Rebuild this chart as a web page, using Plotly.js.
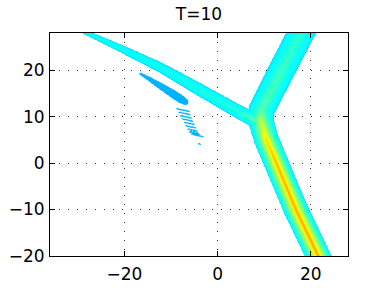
<!DOCTYPE html>
<html><head><meta charset="utf-8">
<script src="https://cdn.plot.ly/plotly-3.0.1.min.js"></script>
<style>html,body{margin:0;padding:0;background:#fff}#plot{width:384px;height:288px}</style>
</head><body><div id="plot"></div>
<script>
// ---- values (data units) ----
// left branch ridge: centre line, half-width, peak level
const ridgeA_x = [-34.0, -27.0, -20.0, -12.3, -3.7, 5.0, 8.6];
const ridgeA_y = [30.9, 27.5, 24.3, 20.6, 15.7, 10.75, 9.0];
const ridgeA_w = [0.48, 0.55, 0.82, 1.05, 1.32, 1.45, 1.65];
const ridgeA_p = [0.385, 0.388, 0.390, 0.393, 0.400, 0.420, 0.480];
// lower branch + upper-right branch ridge
const ridgeB_x = [23.0, 21.6, 16.8, 12.6, 10.5, 9.3, 9.4, 17.9, 19.5];
const ridgeB_y = [-23.0, -20.0, -10.0, 0.0, 5.0, 9.0, 11.4, 28.0, 31.0];
const ridgeB_w = [2.60, 2.60, 2.60, 2.60, 2.65, 2.70, 2.80, 2.90, 2.90];
const ridgeB_p = [0.725, 0.725, 0.72, 0.71, 0.67, 0.57, 0.46, 0.42, 0.42];
// small blob to the left
const blob_x = [-16.5, -14.5, -12.3, -9.6, -7.8, -6.9];
const blob_y = [19.2, 18.0, 16.6, 14.9, 13.7, 13.1];
const blob_w = [0.32, 0.55, 0.75, 0.92, 0.95, 0.70];
const blob_p = [0.305, 0.305, 0.305, 0.305, 0.305, 0.305];
// hatched stripes below the blob (centres)
const stripe_x = [-7.40, -7.12, -6.84, -6.41, -6.11, -5.83, -5.40, -4.96, -4.38, -3.9];
const stripe_y = [11.40, 10.68, 9.96, 9.25, 8.53, 7.81, 7.10, 6.52, 5.96, 4.1];
const stripe_len = [1.3, 1.2, 1.1, 1.1, 1.0, 1.0, 1.0, 1.0, 1.2, 0.15];
const stripe_val = 0.315;

const xTicks = [-20, 0, 20];
const yTicks = [-20, -10, 0, 10, 20];
const xRange = [-36, 28];
const yRange = [-20, 28];
const titleText = 'T=10';

// ---- build field ----
const EDGE = 0.365;
function segField(px, py, ax, ay, bx, by, wa, wb, pa, pb, edge) {
  const dx = bx - ax, dy = by - ay;
  const L2 = dx * dx + dy * dy;
  let t = L2 > 0 ? ((px - ax) * dx + (py - ay) * dy) / L2 : 0;
  t = Math.max(0, Math.min(1, t));
  const qx = ax + t * dx - px, qy = ay + t * dy - py;
  const d = Math.sqrt(qx * qx + qy * qy);
  const w = wa + (wb - wa) * t;
  const p = pa + (pb - pa) * t;
  if (d >= w) return 0;
  return edge + (p - edge) * Math.pow(1 - d / w, 1.5);
}
function ridgeField(px, py, xs, ys, ws, ps, edge) {
  let m = 0;
  for (let i = 0; i < xs.length - 1; i++) {
    const v = segField(px, py, xs[i], ys[i], xs[i + 1], ys[i + 1], ws[i], ws[i + 1], ps[i], ps[i + 1], edge);
    if (v > m) m = v;
  }
  return m;
}
const step = 0.15;
const gx = [], gy = [];
for (let x = xRange[0]; x <= xRange[1] + 1e-9; x += step) gx.push(+x.toFixed(3));
for (let y = yRange[0]; y <= yRange[1] + 1e-9; y += step) gy.push(+y.toFixed(3));
const dirx = 1 / Math.sqrt(1 + 0.23 * 0.23), diry = -0.23 / Math.sqrt(1 + 0.23 * 0.23);
const Z = gy.map(y => gx.map(x => {
  let v = ridgeField(x, y, ridgeA_x, ridgeA_y, ridgeA_w, ridgeA_p, EDGE);
  v = Math.max(v, ridgeField(x, y, ridgeB_x, ridgeB_y, ridgeB_w, ridgeB_p, EDGE));
  v = Math.max(v, ridgeField(x, y, blob_x, blob_y, blob_w, blob_p, 0.30));
  for (let k = 0; k < stripe_x.length; k++) {
    const h = stripe_len[k];
    const s = segField(x, y, stripe_x[k] - h * dirx, stripe_y[k] - h * diry,
      stripe_x[k] + h * dirx, stripe_y[k] + h * diry, 0.22, 0.22, stripe_val, stripe_val, 0.30);
    if (s > v) v = s;
  }
  return v;
}));

// ---- jet colorscale with transparent low end ----
function clamp(a) { return Math.max(0, Math.min(1, a)); }
function jet(v) {
  const r = clamp(1.5 - Math.abs(4 * v - 3)), g = clamp(1.5 - Math.abs(4 * v - 2)), b = clamp(1.5 - Math.abs(4 * v - 1));
  return 'rgb(' + Math.round(r * 255) + ',' + Math.round(g * 255) + ',' + Math.round(b * 255) + ')';
}
const cStart = 0.29, cSize = 0.02, nLev = 26;
const lo = cStart - cSize / 2, hi = cStart + (nLev - 0.5) * cSize;
const sOf = v => (v - lo) / (hi - lo);
const cscale = [[0, 'rgba(255,255,255,0)'], [sOf(cStart) - 1e-4, 'rgba(255,255,255,0)']];
for (let k = 0; k <= 51; k++) {
  const v = cStart + k * 0.01;
  const s = Math.min(1, sOf(v));
  cscale.push([s, jet(v)]);
}
if (cscale[cscale.length - 1][0] < 1) cscale.push([1, jet(hi)]);

const trace = {
  type: 'contour', x: gx, y: gy, z: Z,
  autocontour: false,
  contours: { start: cStart, end: cStart + (nLev - 1) * cSize, size: cSize, coloring: 'fill', showlines: false },
  line: { width: 0 },
  colorscale: cscale, showscale: false, hoverinfo: 'skip'
};

const font = { family: 'DejaVu Sans, sans-serif', size: 17, color: '#000' };
const axisCommon = {
  showline: true, linecolor: '#000', linewidth: 1, mirror: 'ticks',
  ticks: 'inside', ticklen: 5, tickcolor: '#000', tickwidth: 1,
  showgrid: true, gridcolor: '#333', gridwidth: 1, griddash: '1px,8px',
  zeroline: false, tickfont: font
};
const layout = {
  width: 384, height: 288,
  margin: { l: 50, r: 36, t: 33, b: 32 },
  paper_bgcolor: '#fff', plot_bgcolor: '#fff',
  title: { text: titleText, font: font, x: 0.518, xanchor: 'center', y: 0.95, yanchor: 'middle' },
  xaxis: Object.assign({}, axisCommon, { range: xRange, tickvals: xTicks, ticktext: xTicks.map(v => v < 0 ? '\u2212' + (-v) : String(v)), ticklabelstandoff: 3 }),
  yaxis: Object.assign({}, axisCommon, { range: yRange, tickvals: yTicks, ticktext: yTicks.map(v => v < 0 ? '\u2212' + (-v) : String(v)), ticklabelstandoff: 1 }),
  showlegend: false
};
Plotly.newPlot('plot', [trace], layout, { staticPlot: true, displayModeBar: false });
</script>
</body></html>
